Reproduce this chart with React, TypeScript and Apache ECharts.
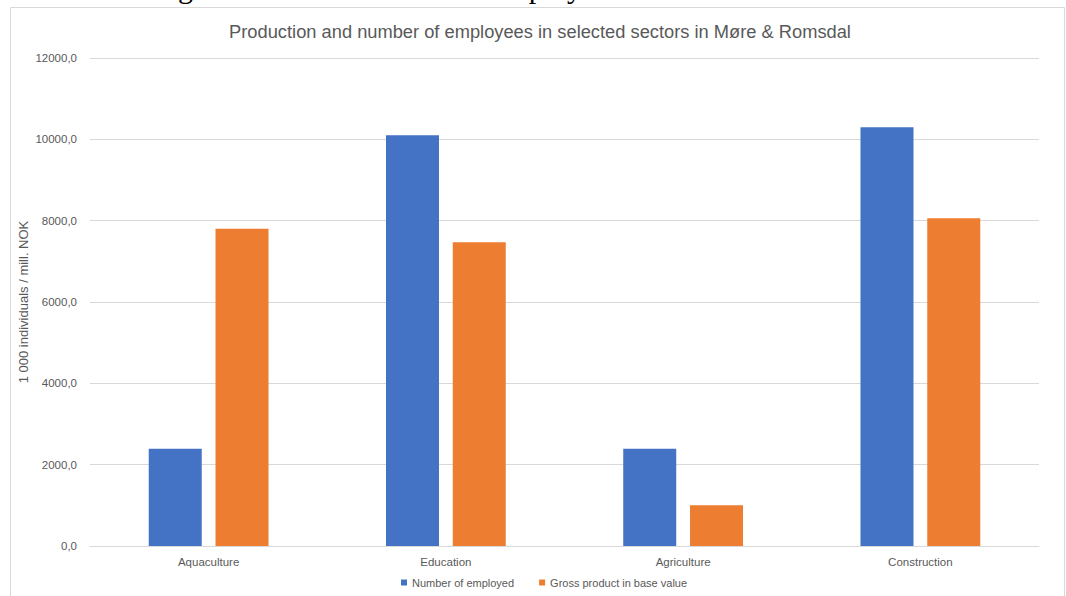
import React, { useEffect, useRef } from "react";
import * as echarts from "echarts";

const categories = ["Aquaculture", "Education", "Agriculture", "Construction"];
const employed = [2390, 10100, 2390, 10300];
const grossProduct = [7800, 7470, 1000, 8060];
const seriesNames = ["Number of employed", "Gross product in base value"];
const titleText = "Production and number of employees in selected sectors in Møre & Romsdal";
const yAxisName = "1 000 individuals / mill. NOK";

export default function App() {
  const ref = useRef<HTMLDivElement>(null);
  useEffect(() => {
    if (!ref.current) return;
    const chart = echarts.init(ref.current, null, { renderer: "svg" });
    const font = "Liberation Sans";
    chart.setOption({
      animation: false,
      backgroundColor: "#ffffff",
      textStyle: { fontFamily: font },
      grid: { left: 90, right: 27, top: 58, bottom: 50, containLabel: false },
      legend: {
        left: 396,
        top: 572,
        itemWidth: 6,
        itemHeight: 6,
        itemGap: 25,
        icon: "rect",
        textStyle: { color: "#595959", fontSize: 11, fontFamily: font },
        data: seriesNames,
      },
      xAxis: {
        type: "category",
        data: categories,
        axisLine: { show: true, lineStyle: { color: "#d9d9d9", width: 1 } },
        axisTick: { show: false },
        axisLabel: { color: "#595959", fontSize: 11.5, margin: 10, fontFamily: font },
      },
      yAxis: {
        type: "value",
        min: 0,
        max: 12000,
        interval: 2000,
        name: yAxisName,
        nameLocation: "middle",
        nameGap: 60,
        nameMoveOverlap: false,
        nameTextStyle: { color: "#595959", fontSize: 13, fontFamily: font },
        axisLine: { show: false },
        axisTick: { show: false },
        axisLabel: {
          color: "#595959",
          fontSize: 11.5,
          margin: 13,
          fontFamily: font,
          formatter: (v: number) => v.toFixed(1).replace(".", ","),
        },
        splitLine: { show: true, lineStyle: { color: "#d9d9d9", width: 1 } },
      },
      series: [
        {
          name: seriesNames[0],
          type: "bar",
          data: employed,
          barWidth: 53,
          barGap: "26%",
          itemStyle: { color: "#4472C4" },
        },
        {
          name: seriesNames[1],
          type: "bar",
          data: grossProduct,
          barWidth: 53,
          barGap: "26%",
          itemStyle: { color: "#ED7D31" },
        },
      ],
      graphic: [
        {
          type: "rect",
          shape: { x: 10.5, y: 7.5, width: 1054, height: 600 },
          style: { fill: "none", stroke: "#d9d9d9", lineWidth: 1 },
          silent: true,
        },
        {
          type: "text",
          x: 540,
          y: 31,
          style: {
            text: titleText,
            fill: "#595959",
            fontSize: 18.3,
            fontFamily: font,
            align: "center",
            verticalAlign: "middle",
          },
        },
        {
          type: "text",
          x: 178,
          y: 2,
          style: {
            text: "g",
            fill: "#000000",
            fontSize: 30,
            fontFamily: "Liberation Serif",
            align: "left",
            verticalAlign: "bottom",
          },
        },
        {
          type: "text",
          x: 492,
          y: 2,
          style: {
            text: "employ",
            fill: "#000000",
            fontSize: 30,
            fontFamily: "Liberation Serif",
            align: "left",
            verticalAlign: "bottom",
          },
        },
      ],
    });
    return () => chart.dispose();
  }, []);
  return (
    <div
      ref={ref}
      style={{ position: "fixed", left: 0, top: 0, width: 1066, height: 596 }}
    />
  );
}
